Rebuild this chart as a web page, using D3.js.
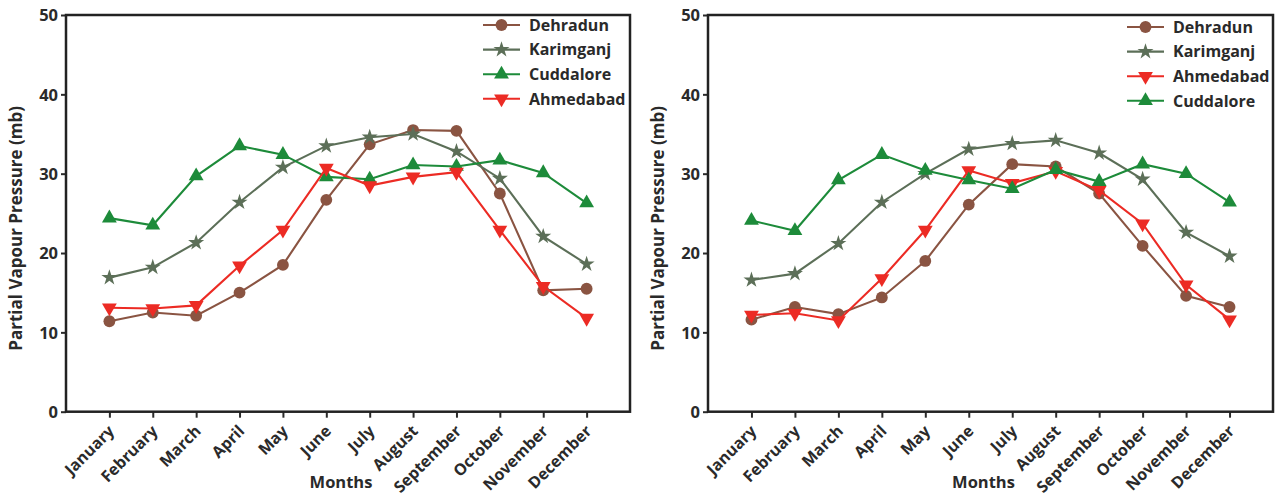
<!DOCTYPE html>
<html>
<head>
<meta charset="utf-8">
<script src="https://cdn.jsdelivr.net/npm/d3@7"></script>
<style>
    body { margin: 0; background: #fff; }
    text { font-family: "Open Sans", "DejaVu Sans", sans-serif; font-weight: bold; fill: #2a2a2a; }
</style>
</head>
<body>
<div id="chart"></div>
<script>
const months = ["January", "February", "March", "April", "May", "June",
    "July", "August", "September", "October", "November", "December"];
const yTicks = [0, 10, 20, 30, 40, 50];

// Left panel
const dehradunA = [11.4, 12.5, 12.1, 15.0, 18.5, 26.7, 33.7, 35.5, 35.4, 27.5, 15.3, 15.5];
const karimganjA = [16.9, 18.2, 21.3, 26.4, 30.8, 33.5, 34.6, 35.0, 32.8, 29.4, 22.1, 18.6];
const cuddaloreA = [24.4, 23.5, 29.7, 33.5, 32.4, 29.6, 29.3, 31.1, 30.9, 31.7, 30.1, 26.3];
const ahmedabadA = [13.1, 13.0, 13.4, 18.4, 22.9, 30.7, 28.5, 29.6, 30.2, 22.9, 15.8, 11.8];

// Right panel
const dehradunB = [11.6, 13.2, 12.3, 14.4, 19.0, 26.1, 31.2, 30.9, 27.5, 20.9, 14.6, 13.2];
const karimganjB = [16.6, 17.4, 21.2, 26.4, 30.0, 33.1, 33.8, 34.2, 32.6, 29.3, 22.6, 19.6];
const cuddaloreB = [24.1, 22.8, 29.2, 32.4, 30.4, 29.2, 28.1, 30.5, 29.0, 31.2, 30.0, 26.4];
const ahmedabadB = [12.2, 12.4, 11.5, 16.8, 22.9, 30.4, 28.8, 30.3, 27.9, 23.7, 16.0, 11.6];

const colors = {
    Dehradun: "#8a5442",
    Karimganj: "#5c6f58",
    Cuddalore: "#1d8b3a",
    Ahmedabad: "#ec2b24"
};
const shapes = {
    Dehradun: d3.symbol().type(d3.symbolCircle).size(110),
    Karimganj: d3.symbol().type(d3.symbolStar).size(80),
    Cuddalore: d3.symbol().type(d3.symbolTriangle).size(95),
    Ahmedabad: d3.symbol().type(d3.symbolTriangle).size(95)
};

const W = 1278, H = 493;
const svg = d3.select("#chart").append("svg")
    .attr("width", W).attr("height", H);

function drawPanel(box, series, legendBox) {
    const g = svg.append("g");
    const x = d3.scalePoint().domain(months).range([box.left, box.right]).padding(1);
    const y = d3.scaleLinear().domain([0, 50]).range([box.bottom, box.top]);

    // y ticks
    const yAxis = g.append("g").attr("transform", `translate(${box.left},0)`)
        .call(d3.axisLeft(y).tickValues(yTicks).tickSize(5).tickPadding(3));
    yAxis.select(".domain").remove();
    yAxis.selectAll("line").attr("stroke", "#2a2a2a").attr("stroke-width", 2);
    yAxis.selectAll("text").style("font-size", "16.5px").attr("dy", "0.35em");

    // x ticks, labels turned 45 degrees
    const xAxis = g.append("g").attr("transform", `translate(0,${box.bottom})`)
        .call(d3.axisBottom(x).tickSize(6).tickPadding(4));
    xAxis.select(".domain").remove();
    xAxis.selectAll("line").attr("stroke", "#2a2a2a").attr("stroke-width", 2);
    xAxis.selectAll("text")
        .style("font-size", "16px")
        .attr("text-anchor", "end")
        .attr("dy", "0.3em")
        .attr("transform", "translate(2,17) rotate(-45)")
        .attr("y", 0).attr("x", 0);

    // frame
    g.append("rect")
        .attr("x", box.left).attr("y", box.top)
        .attr("width", box.right - box.left).attr("height", box.bottom - box.top)
        .attr("fill", "none").attr("stroke", "#222").attr("stroke-width", 2.5);

    const line = d3.line().x((d, i) => x(months[i])).y(d => y(d));

    series.forEach(s => {
        g.append("path")
            .attr("d", line(s.values))
            .attr("fill", "none")
            .attr("stroke", colors[s.name])
            .attr("stroke-width", 2.1);
        g.selectAll(null).data(s.values).enter().append("path")
            .attr("d", shapes[s.name])
            .attr("fill", colors[s.name])
            .attr("transform", (d, i) => {
                let t = `translate(${x(months[i])},${y(d)})`;
                if (s.name === "Ahmedabad") t += " rotate(180)";
                return t;
            });
    });

    // legend
    series.forEach((s, i) => {
        const ly = legendBox.y + i * 24.6;
        g.append("line")
            .attr("x1", legendBox.x).attr("x2", legendBox.x + 37)
            .attr("y1", ly).attr("y2", ly)
            .attr("stroke", colors[s.name]).attr("stroke-width", 2.1);
        g.append("path")
            .attr("d", shapes[s.name])
            .attr("fill", colors[s.name])
            .attr("transform", `translate(${legendBox.x + 18.5},${ly})` + (s.name === "Ahmedabad" ? " rotate(180)" : ""));
        g.append("text")
            .attr("x", legendBox.x + 46).attr("y", ly)
            .attr("dy", "0.36em")
            .style("font-size", "16px")
            .text(s.name);
    });

    // axis titles
    g.append("text")
        .attr("x", (box.left + box.right) / 2 - 7).attr("y", box.bottom + 76)
        .attr("text-anchor", "middle")
        .style("font-size", "16.5px")
        .text("Months");
    g.append("text")
        .attr("transform", `translate(${box.left - 44},${(box.top + box.bottom) / 2 + 15}) rotate(-90)`)
        .attr("text-anchor", "middle")
        .style("font-size", "17px")
        .text("Partial Vapour Pressure (mb)");
}

drawPanel({left: 66, right: 630, top: 15, bottom: 411.7},
    [
        {name: "Dehradun", values: dehradunA},
        {name: "Karimganj", values: karimganjA},
        {name: "Cuddalore", values: cuddaloreA},
        {name: "Ahmedabad", values: ahmedabadA}
    ],
    {x: 483, y: 25});

drawPanel({left: 708, right: 1273, top: 15, bottom: 411.7},
    [
        {name: "Dehradun", values: dehradunB},
        {name: "Karimganj", values: karimganjB},
        {name: "Ahmedabad", values: ahmedabadB},
        {name: "Cuddalore", values: cuddaloreB}
    ],
    {x: 1127, y: 27});
</script>
</body>
</html>
